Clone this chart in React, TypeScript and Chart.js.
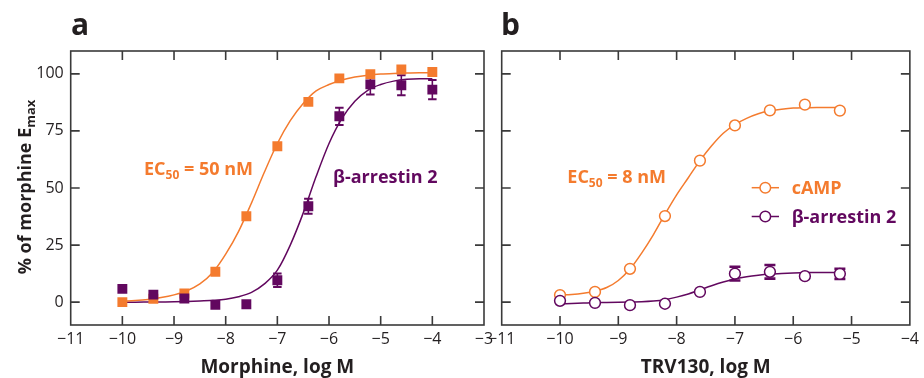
import React, { useEffect, useRef } from "react";
import { Chart, registerables } from "chart.js";

Chart.register(...registerables);

const W = 924;
const H = 378;
const FONT = "'Open Sans', 'Noto Sans', sans-serif";
const ORANGE = "#F47B2E";
const PURPLE = "#62085F";
const INK = "#231F20";
const FRAME = "#3A3A3A";

// ---------- Panel a (morphine) ----------
const aDoseX = [-10, -9.4, -8.8, -8.2, -7.6, -7.0, -6.4, -5.8, -5.2, -4.6, -4.0];
const aCampY = [0, 1.5, 3.8, 13.3, 37.6, 68.3, 87.7, 98, 99.8, 101.9, 100.8];
const aArrY = [5.8, 3.3, 1.6, -1.2, -0.9, 9.6, 42, 81.4, 95.4, 95, 93.1];
const aArrErr = [0, 0, 0, 0, 0, 3, 3.3, 3.8, 4.4, 4.4, 4.2];
const aCurveX = [-10, -9.75, -9.5, -9.25, -9, -8.75, -8.5, -8.25, -8, -7.75, -7.5, -7.25, -7, -6.75, -6.5, -6.25, -6, -5.75, -5.5, -5.25, -5, -4.75, -4.5, -4.25, -4];
const aCampCurve = [0.4, 0.7, 1.2, 2, 3.2, 5, 8, 13, 21, 31, 43.5, 57, 69.5, 79.5, 87, 92.5, 95.3, 97.3, 98.6, 99.4, 99.9, 100.2, 100.4, 100.5, 100.5];
const aArrCurve = [0, 0, 0.05, 0.1, 0.15, 0.3, 0.5, 0.8, 1.3, 2.4, 4.3, 8, 14, 25, 39, 55, 69.5, 80.5, 88, 92.8, 95.3, 96.8, 97.6, 97.9, 97.8];
const aXTicks = [-11, -10, -9, -8, -7, -6, -5, -4, -3];

// ---------- Panel b (TRV130) ----------
const bDoseX = [-10, -9.4, -8.8, -8.2, -7.6, -7.0, -6.4, -5.8, -5.2];
const bCampY = [3.1, 4.5, 14.6, 37.7, 62, 77.4, 84, 86.5, 83.9];
const bArrY = [0.6, -0.3, -1.3, -0.7, 4.5, 12.5, 13.3, 11.4, 12.4];
const bArrErr = [0, 0, 0, 0, 0, 3, 3, 0, 2.2];
const bCurveX = [-10, -9.8, -9.6, -9.4, -9.2, -9, -8.8, -8.6, -8.4, -8.2, -8, -7.8, -7.6, -7.4, -7.2, -7, -6.8, -6.6, -6.4, -6.2, -6, -5.8, -5.6, -5.4, -5.2];
const bCampCurve = [3.2, 3.4, 3.9, 4.8, 6.4, 9.5, 14.5, 21.5, 29.5, 38.5, 47, 54.5, 62, 68.5, 74, 77.8, 80.5, 82.5, 83.8, 84.5, 85, 85.2, 85.3, 85.3, 85.3];
const bArrCurve = [-0.8, -0.6, -0.4, -0.2, -0.1, 0, 0.1, 0.2, 0.5, 1.1, 2.2, 3.6, 5.4, 7.2, 8.8, 10.1, 11.1, 11.8, 12.3, 12.6, 12.8, 12.9, 13, 13, 13];
const bXTicks = [-11, -10, -9, -8, -7, -6, -5, -4];

const yTicks = [0, 25, 50, 75, 100];

const fmt = (v: number) => (v < 0 ? "\u2212" + Math.abs(v) : String(v));
const pts = (xs: number[], ys: number[]) => xs.map((x, i) => ({ x, y: ys[i] }));

type Part = { t: string; s: number; dy?: number };

function drawRich(ctx: CanvasRenderingContext2D, parts: Part[], x: number, y: number, color: string, center = false) {
  ctx.save();
  ctx.fillStyle = color;
  ctx.textBaseline = "alphabetic";
  ctx.textAlign = "left";
  let total = 0;
  const widths = parts.map((p) => {
    ctx.font = `bold ${p.s}px ${FONT}`;
    const w = ctx.measureText(p.t).width;
    total += w;
    return w;
  });
  let cx = center ? x - total / 2 : x;
  parts.forEach((p, i) => {
    ctx.font = `bold ${p.s}px ${FONT}`;
    ctx.fillText(p.t, cx, y + (p.dy || 0));
    cx += widths[i];
  });
  ctx.restore();
}

type ErrSpec = { xs: number[]; ys: number[]; err: number[]; color: string; cap: number; capLW: number };
type Spec = {
  xMin: number;
  xMax: number;
  xTicks: number[];
  showYLabels: boolean;
  padding: { left: number; right: number; top: number; bottom: number };
  yWidth: number;
  xHeight: number;
  xTitle: string;
  datasets: any[];
  errs: ErrSpec[];
  decorate: (ctx: CanvasRenderingContext2D) => void;
};

function makeChart(canvas: HTMLCanvasElement, spec: Spec) {
  const plugin = {
    id: "frameAndDecor",
    beforeDatasetsDraw(chart: any) {
      const ctx: CanvasRenderingContext2D = chart.ctx;
      const { left, right, top, bottom } = chart.chartArea;
      const xs = chart.scales.x;
      const ys = chart.scales.y;
      ctx.save();
      ctx.strokeStyle = FRAME;
      ctx.lineWidth = 1.6;
      ctx.strokeRect(left, top, right - left, bottom - top);
      const TL = 9;
      ctx.beginPath();
      spec.xTicks.forEach((v) => {
        if (v === spec.xMin || v === spec.xMax) return;
        const px = xs.getPixelForValue(v);
        ctx.moveTo(px, bottom);
        ctx.lineTo(px, bottom - TL);
        ctx.moveTo(px, top);
        ctx.lineTo(px, top + TL);
      });
      yTicks.forEach((v) => {
        const py = ys.getPixelForValue(v);
        ctx.moveTo(left, py);
        ctx.lineTo(left + TL, py);
        ctx.moveTo(right, py);
        ctx.lineTo(right - TL, py);
      });
      ctx.stroke();
      // error bars
      spec.errs.forEach((e) => {
        ctx.strokeStyle = e.color;
        e.xs.forEach((xv, i) => {
          const er = e.err[i];
          if (!er) return;
          const px = xs.getPixelForValue(xv);
          const pHi = ys.getPixelForValue(e.ys[i] + er);
          const pLo = ys.getPixelForValue(e.ys[i] - er);
          ctx.lineWidth = 1.6;
          ctx.beginPath();
          ctx.moveTo(px, pHi);
          ctx.lineTo(px, pLo);
          ctx.stroke();
          ctx.lineWidth = e.capLW;
          ctx.beginPath();
          ctx.moveTo(px - e.cap / 2, pHi);
          ctx.lineTo(px + e.cap / 2, pHi);
          ctx.moveTo(px - e.cap / 2, pLo);
          ctx.lineTo(px + e.cap / 2, pLo);
          ctx.stroke();
        });
      });
      ctx.restore();
    },
    afterDraw(chart: any) {
      spec.decorate(chart.ctx);
    },
  };

  return new Chart(canvas, {
    type: "line",
    data: { datasets: spec.datasets },
    options: {
      responsive: false,
      animation: false,
      events: [],
      layout: { padding: spec.padding },
      plugins: { legend: { display: false }, tooltip: { enabled: false }, title: { display: false } },
      scales: {
        x: {
          type: "linear",
          min: spec.xMin,
          max: spec.xMax,
          afterBuildTicks: (s: any) => {
            s.ticks = spec.xTicks.map((v) => ({ value: v }));
          },
          afterFit: (s: any) => {
            s.height = spec.xHeight;
          },
          grid: { display: false, drawTicks: false },
          border: { display: false },
          ticks: {
            color: INK,
            font: { family: FONT, size: 16 },
            padding: 5,
            maxRotation: 0,
            autoSkip: false,
            callback: (v: any) => fmt(Number(v)),
          },
          title: {
            display: true,
            text: spec.xTitle,
            color: INK,
            font: { family: FONT, size: 19, weight: "bold", lineHeight: 1 },
            padding: { top: 0, bottom: 1 },
          },
        },
        y: {
          type: "linear",
          min: -10,
          max: 110,
          afterBuildTicks: (s: any) => {
            s.ticks = yTicks.map((v) => ({ value: v }));
          },
          afterFit: (s: any) => {
            s.width = spec.yWidth;
          },
          grid: { display: false, drawTicks: false },
          border: { display: false },
          ticks: {
            display: spec.showYLabels,
            color: INK,
            font: { family: FONT, size: 16 },
            padding: 7,
            callback: (v: any) => fmt(Number(v)),
          },
        },
      },
    } as any,
    plugins: [plugin as any],
  });
}

const curve = (xs: number[], ys: number[], color: string, order: number) => ({
  data: pts(xs, ys),
  borderColor: color,
  borderWidth: 1.5,
  pointRadius: 0,
  fill: false,
  cubicInterpolationMode: "monotone",
  order,
});

const squares = (xs: number[], ys: number[], color: string, order: number) => ({
  data: pts(xs, ys),
  showLine: false,
  pointStyle: "rect",
  pointRadius: 7,
  pointBorderWidth: 0,
  pointBackgroundColor: color,
  pointBorderColor: color,
  order,
});

const circles = (xs: number[], ys: number[], color: string, order: number) => ({
  data: pts(xs, ys),
  showLine: false,
  pointStyle: "circle",
  pointRadius: 5.4,
  pointBorderWidth: 1.5,
  pointBackgroundColor: "#ffffff",
  pointBorderColor: color,
  order,
});

export default function App() {
  const refA = useRef<HTMLCanvasElement>(null);
  const refB = useRef<HTMLCanvasElement>(null);

  useEffect(() => {
    const chartA = makeChart(refA.current!, {
      xMin: -11,
      xMax: -3,
      xTicks: aXTicks,
      showYLabels: true,
      padding: { left: 0, right: W - 484, top: 51, bottom: 0 },
      yWidth: 70.7,
      xHeight: H - 325,
      xTitle: "Morphine, log M",
      datasets: [
        squares(aDoseX, aArrY, PURPLE, 0),
        squares(aDoseX, aCampY, ORANGE, 1),
        curve(aCurveX, aCampCurve, ORANGE, 2),
        curve(aCurveX, aArrCurve, PURPLE, 3),
      ],
      errs: [{ xs: aDoseX, ys: aArrY, err: aArrErr, color: PURPLE, cap: 8.5, capLW: 2 }],
      decorate: (ctx) => {
        drawRich(ctx, [{ t: "a", s: 30 }], 71, 35, INK);
        drawRich(ctx, [{ t: "EC", s: 18 }, { t: "50", s: 12, dy: 4 }, { t: " = 50 nM", s: 18 }], 144, 175, ORANGE);
        drawRich(ctx, [{ t: "\u03B2-arrestin 2", s: 18 }], 333, 183, PURPLE);
        ctx.save();
        ctx.translate(31, 187);
        ctx.rotate(-Math.PI / 2);
        drawRich(ctx, [{ t: "% of morphine E", s: 18 }, { t: "max", s: 13, dy: 3.5 }], 0, 0, INK, true);
        ctx.restore();
      },
    });

    const chartB = makeChart(refB.current!, {
      xMin: -11,
      xMax: -4,
      xTicks: bXTicks,
      showYLabels: false,
      padding: { left: 501.7, right: W - 914, top: 51, bottom: 0 },
      yWidth: 0,
      xHeight: H - 325,
      xTitle: "TRV130, log M",
      datasets: [
        circles(bDoseX, bArrY, PURPLE, 0),
        circles(bDoseX, bCampY, ORANGE, 1),
        curve(bCurveX, bCampCurve, ORANGE, 2),
        curve(bCurveX, bArrCurve, PURPLE, 3),
      ],
      errs: [{ xs: bDoseX, ys: bArrY, err: bArrErr, color: PURPLE, cap: 11, capLW: 2.6 }],
      decorate: (ctx) => {
        drawRich(ctx, [{ t: "b", s: 30 }], 501, 35, INK);
        drawRich(ctx, [{ t: "EC", s: 18 }, { t: "50", s: 12, dy: 4 }, { t: " = 8 nM", s: 18 }], 567.3, 182.7, ORANGE);
        const legend = [
          { y: 187.7, color: ORANGE, label: "cAMP" },
          { y: 216.5, color: PURPLE, label: "\u03B2-arrestin 2" },
        ];
        legend.forEach((l) => {
          ctx.save();
          ctx.strokeStyle = l.color;
          ctx.lineWidth = 1.5;
          ctx.beginPath();
          ctx.moveTo(751.7, l.y);
          ctx.lineTo(779, l.y);
          ctx.stroke();
          ctx.beginPath();
          ctx.arc(765.3, l.y, 5.3, 0, Math.PI * 2);
          ctx.fillStyle = "#ffffff";
          ctx.fill();
          ctx.stroke();
          ctx.restore();
          drawRich(ctx, [{ t: l.label, s: 18 }], 791.7, l.y + 6, l.color);
        });
      },
    });

    return () => {
      chartA.destroy();
      chartB.destroy();
    };
  }, []);

  const cStyle: React.CSSProperties = { position: "absolute", left: 0, top: 0, width: W, height: H };
  return (
    <div style={{ position: "fixed", left: 0, top: 0, width: W, height: H, background: "#ffffff" }}>
      <canvas ref={refA} width={W} height={H} style={cStyle} />
      <canvas ref={refB} width={W} height={H} style={cStyle} />
    </div>
  );
}
